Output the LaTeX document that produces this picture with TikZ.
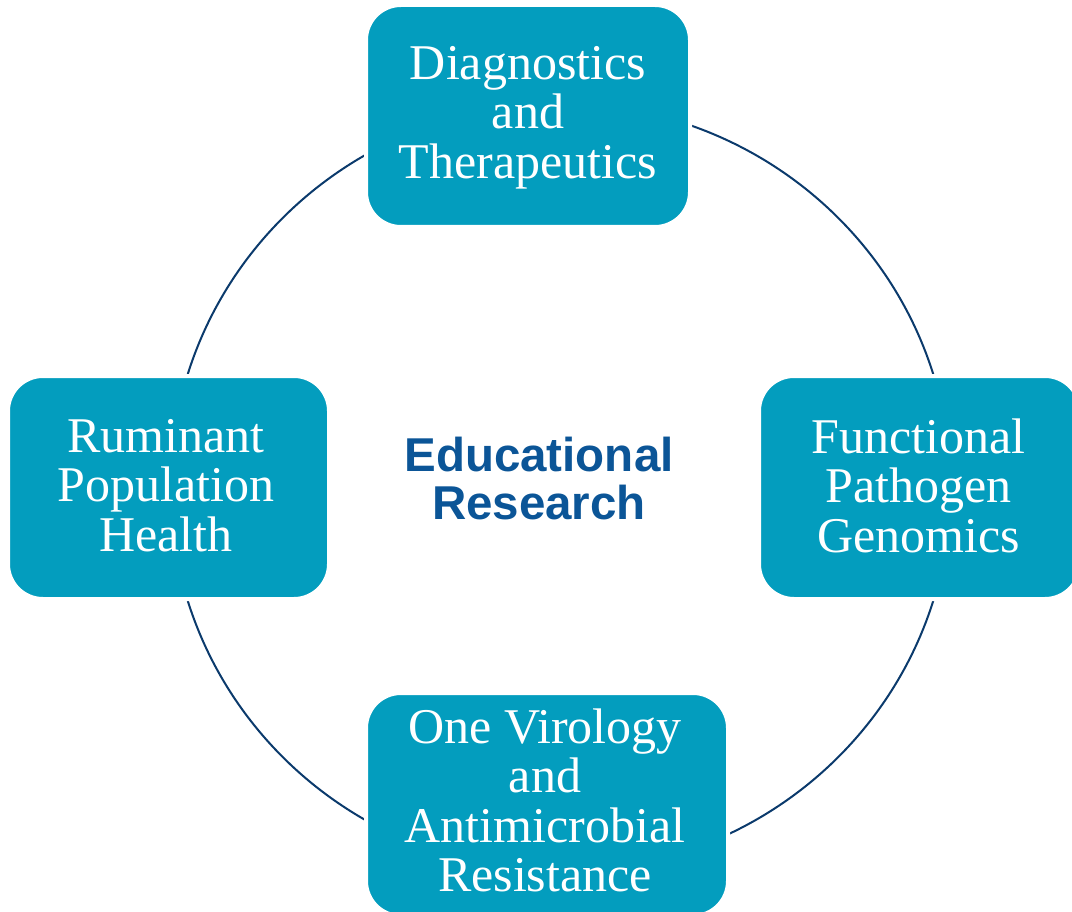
\documentclass[tikz,border=0pt]{standalone}
\usepackage{fontspec}
\setmainfont{Liberation Serif}
\newfontfamily\hubfont{Liberation Sans}
\definecolor{boxteal}{HTML}{039DBE}
\definecolor{ringnavy}{HTML}{0B3A6C}
\definecolor{hubblue}{HTML}{0B5597}
\begin{document}
\begin{tikzpicture}[x=1pt,y=-1pt,
  topic/.style={draw=white, line width=4pt, fill=boxteal, rounded corners=35pt, inner sep=0pt},
  topictext/.style={text=white, align=center, inner sep=0pt,
    font=\fontsize{50}{49.5}\selectfont},
  hubtext/.style={text=hubblue, align=center, inner sep=0pt,
    font=\hubfont\bfseries\fontsize{47.5}{48}\selectfont},
  ring/.style={draw=ringnavy, line width=2pt}]
\useasboundingbox (0,0) rectangle (1072,912);
\clip (0,0) rectangle (1072,912);

% the ring joining the four research areas
\draw[ring] (560.5,487.5) ellipse [x radius=390pt, y radius=384pt];

% research-area boxes
\node[topic, minimum width=324pt, minimum height=222pt] (diag) at (528,116) {};
\node[topic, minimum width=321pt, minimum height=223pt] (rumi) at (168.5,487.5) {};
\node[topic, minimum width=321pt, minimum height=223pt] (func) at (919.5,487.5) {};
\node[topic, minimum width=362pt, minimum height=223pt] (viro) at (547,804.5) {};

% box labels
\node[topictext] (diag-label) at (528,117.5) {Diagnostics\\and\\Therapeutics};
\node[topictext] (rumi-label) at (166,485.5) {Ruminant\\Population\\Health};
\node[topictext] (func-label) at (918.5,485.5) {Functional\\Pathogen\\Genomics};
\node[topictext] (viro-label) at (545,800.5) {One Virology\\and\\Antimicrobial\\Resistance};

% centre label
\node[hubtext] (hub) at (539,478.5) {Educational\\Research};
\end{tikzpicture}
\end{document}
